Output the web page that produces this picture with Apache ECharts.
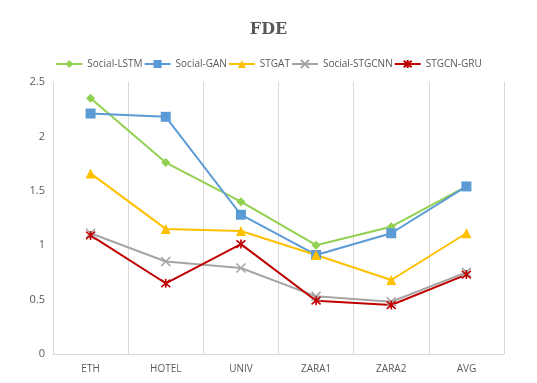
<!DOCTYPE html>
<html><head><meta charset="utf-8">
<script src="https://cdn.jsdelivr.net/npm/echarts@6/dist/echarts.min.js"></script>
<style>html,body{margin:0;padding:0;background:#fff}#c{width:537px;height:383px}</style>
</head><body><div id="c"></div>
<script>
const categories = ['ETH','HOTEL','UNIV','ZARA1','ZARA2','AVG'];
const seriesNames = ['Social-LSTM','Social-GAN','STGAT','Social-STGCNN','STGCN-GRU'];
const socialLSTM = [2.35,1.76,1.40,1.00,1.17,1.54];
const socialGAN = [2.21,2.18,1.28,0.91,1.11,1.54];
const stgat = [1.66,1.15,1.13,0.91,0.68,1.11];
const socialSTGCNN = [1.11,0.85,0.79,0.53,0.48,0.75];
const stgcnGRU = [1.09,0.65,1.01,0.49,0.45,0.73];
const yTicks = ['0','0.5','1','1.5','2','2.5'];

const values = [socialLSTM, socialGAN, stgat, socialSTGCNN, stgcnGRU];
const colors = ['#92D050','#5B9BD5','#FFC000','#A5A5A5','#C00000'];
const symbols = ['diamond','rect','triangle','path://M0,0L10,10M10,0L0,10','path://M0,0L10,10M10,0L0,10M5,-1L5,11'];
const sizes = [9,10,10,9,9];
const font = '"Open Sans", "Liberation Sans", sans-serif';

const chart = echarts.init(document.getElementById('c'), null, {renderer:'canvas'});
chart.setOption({
  animation:false,
  backgroundColor:'#fff',
  title:{text:'FDE', left:'center', top:17, textStyle:{fontFamily:'"DejaVu Serif", "Liberation Serif", serif', fontWeight:'bold', fontSize:16, color:'#595959'}},
  legend:{top:54, left:'center', itemWidth:26, itemHeight:10, itemGap:1, textStyle:{fontFamily:font, fontSize:10, color:'#595959'}, data:seriesNames},
  grid:{left:53, right:33, top:82, bottom:29, containLabel:false},
  xAxis:{type:'category', data:categories, boundaryGap:true,
    axisLine:{lineStyle:{color:'#D9D9D9', width:1}}, axisTick:{show:false},
    axisLabel:{fontFamily:font, fontSize:10, color:'#595959', margin:10},
    splitLine:{show:true, lineStyle:{color:'#D9D9D9', width:1}}},
  yAxis:{type:'value', min:0, max:2.5, interval:0.5,
    axisLine:{show:true, lineStyle:{color:'#D9D9D9', width:1}}, axisTick:{show:false},
    axisLabel:{fontFamily:font, fontSize:11, color:'#595959', margin:8, formatter:(v,i)=>yTicks[i]},
    splitLine:{show:false}},
  series: values.map((d,i)=>({
    name:seriesNames[i], type:'line', data:d, symbol:symbols[i], symbolSize:sizes[i],
    showAllSymbol:true,
    lineStyle:{color:colors[i], width:2},
    itemStyle:{color:colors[i], borderColor:colors[i], borderWidth: i>=3 ? 1.6 : 0}
  }))
});
</script></body></html>
